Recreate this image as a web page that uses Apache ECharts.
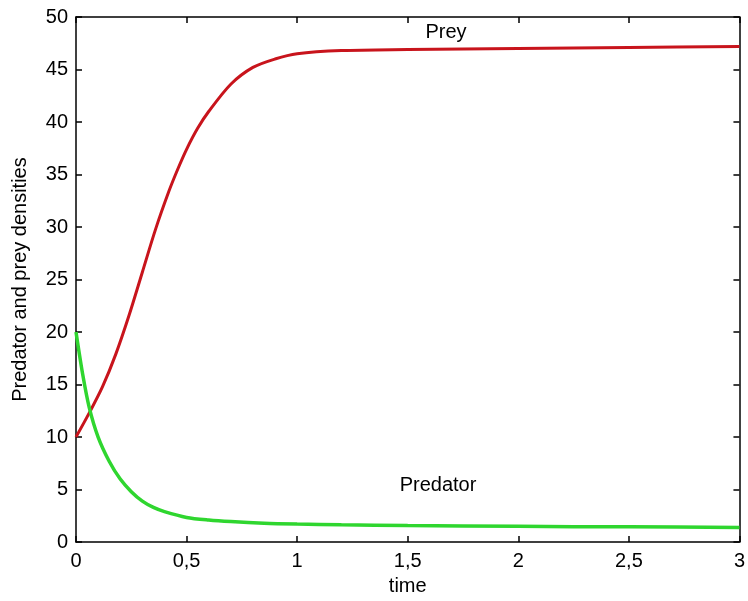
<!DOCTYPE html>
<html>
<head>
<meta charset="utf-8">
<script src="https://cdn.jsdelivr.net/npm/echarts@6/dist/echarts.min.js"></script>
<style>html,body{margin:0;padding:0;background:#fff;}#c{width:748px;height:601px;}</style>
</head>
<body>
<div id="c"></div>
<script>
// Data
const preyT = [0, 0.06, 0.12, 0.18, 0.24, 0.3, 0.36, 0.42, 0.46, 0.5, 0.55, 0.6, 0.7, 0.8, 0.9, 1.0, 1.2, 1.5, 2, 2.5, 3];
const preyV = [10, 12.3, 14.8, 17.9, 21.6, 25.7, 29.8, 33.4, 35.5, 37.4, 39.4, 41.0, 43.6, 45.2, 46.0, 46.5, 46.8, 46.9, 47.0, 47.1, 47.2];
const predT = [0, 0.03, 0.06, 0.1, 0.15, 0.2, 0.25, 0.3, 0.35, 0.4, 0.5, 0.6, 0.7, 0.85, 1.0, 1.2, 1.5, 2, 2.5, 3];
const predV = [20, 16.0, 12.8, 10.0, 7.7, 6.0, 4.8, 3.9, 3.3, 2.9, 2.35, 2.1, 1.95, 1.8, 1.72, 1.65, 1.58, 1.5, 1.45, 1.4];
const xTicks = [0, 0.5, 1, 1.5, 2, 2.5, 3];
const yTicks = [0, 5, 10, 15, 20, 25, 30, 35, 40, 45, 50];
const labels = [
  { name: 'Prey', t: 1.673, v: 48.5 },
  { name: 'Predator', t: 1.637, v: 5.4 }
];

const FONT = 'Liberation Sans, Arial, sans-serif';
const FS = 20;
const chart = echarts.init(document.getElementById('c'));
const axisLine = { show: true, onZero: false, lineStyle: { color: '#000', width: 1.5 } };
const axisTick = { show: true, inside: true, length: 6, lineStyle: { color: '#000', width: 1.5 } };
const fmt = v => String(v).replace('.', ',');

chart.setOption({
  animation: false,
  backgroundColor: '#fff',
  grid: { left: 76, right: 3, top: 17, bottom: 58 },
  xAxis: [
    {
      type: 'value', min: xTicks[0], max: xTicks[xTicks.length - 1], interval: 0.5, position: 'bottom',
      name: 'time', nameLocation: 'middle', nameGap: 33,
      nameTextStyle: { color: '#000', fontFamily: FONT, fontSize: FS },
      axisLine, axisTick, splitLine: { show: false },
      axisLabel: { color: '#000', fontFamily: FONT, fontSize: FS, margin: 9, formatter: fmt }
    },
    {
      type: 'value', min: xTicks[0], max: xTicks[xTicks.length - 1], interval: 0.5, position: 'top',
      axisLine, axisTick, splitLine: { show: false }, axisLabel: { show: false }
    }
  ],
  yAxis: [
    {
      type: 'value', min: yTicks[0], max: yTicks[yTicks.length - 1], interval: 5, position: 'left',
      name: 'Predator and prey densities', nameLocation: 'middle', nameGap: 46,
      nameTextStyle: { color: '#000', fontFamily: FONT, fontSize: FS },
      axisLine, axisTick, splitLine: { show: false },
      axisLabel: { color: '#000', fontFamily: FONT, fontSize: FS, margin: 8, formatter: fmt }
    },
    {
      type: 'value', min: yTicks[0], max: yTicks[yTicks.length - 1], interval: 5, position: 'right',
      axisLine, axisTick, splitLine: { show: false }, axisLabel: { show: false }
    }
  ],
  series: [
    {
      name: 'Prey', type: 'line', smooth: 0.3, showSymbol: false,
      data: preyT.map((t, i) => [t, preyV[i]]),
      lineStyle: { color: '#c8141c', width: 3 },
      itemStyle: { color: '#c8141c' },
      markPoint: {
        symbol: 'rect', symbolSize: 1, itemStyle: { color: 'rgba(0,0,0,0)' },
        label: { show: true, position: 'inside', color: '#000', fontFamily: FONT, fontSize: FS, formatter: p => p.name },
        data: [{ name: labels[0].name, coord: [labels[0].t, labels[0].v] }]
      }
    },
    {
      name: 'Predator', type: 'line', smooth: 0.3, showSymbol: false,
      data: predT.map((t, i) => [t, predV[i]]),
      lineStyle: { color: '#2fd62f', width: 3.5 },
      itemStyle: { color: '#2fd62f' },
      markPoint: {
        symbol: 'rect', symbolSize: 1, itemStyle: { color: 'rgba(0,0,0,0)' },
        label: { show: true, position: 'inside', color: '#000', fontFamily: FONT, fontSize: FS, formatter: p => p.name },
        data: [{ name: labels[1].name, coord: [labels[1].t, labels[1].v] }]
      }
    }
  ]
});
</script>
</body>
</html>
